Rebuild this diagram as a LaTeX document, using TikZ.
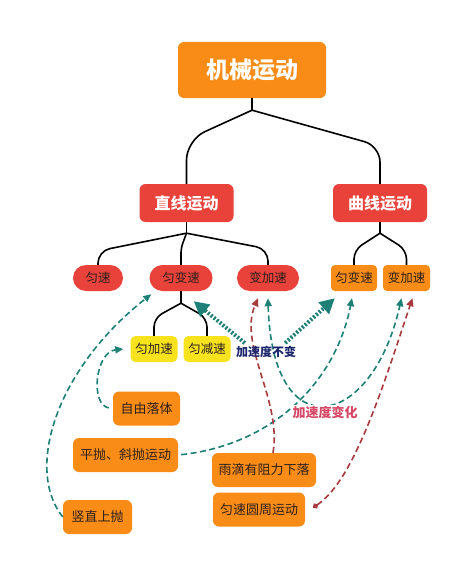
\documentclass[tikz,border=0pt]{standalone}
\usepackage{fontspec}
\setmainfont{Noto Sans CJK SC}
\usetikzlibrary{arrows.meta,calc}
\definecolor{orangeb}{RGB}{249,140,22}
\definecolor{rougeb}{RGB}{232,66,58}
\definecolor{jauneb}{RGB}{247,226,30}
\definecolor{sarcelle}{RGB}{28,128,118}
\definecolor{brique}{RGB}{168,58,62}
\definecolor{marine}{RGB}{28,38,110}
\definecolor{rose}{RGB}{214,72,102}
\definecolor{texte}{RGB}{45,32,30}

\begin{document}
\begin{tikzpicture}[x=1pt,y=-1pt,
    racine/.style={fill=orangeb,minimum width=148pt,minimum height=56pt,rounded corners=6pt,text=white,font=\bfseries\fontsize{23}{26}\selectfont},
    branche/.style={fill=rougeb,minimum width=94pt,minimum height=38pt,rounded corners=6pt,text=white,font=\bfseries\fontsize{16}{18}\selectfont},
    pilule/.style={fill=rougeb,minimum height=26pt,rounded corners=13pt,text=texte,font=\fontsize{12.5}{14}\selectfont},
    carre/.style={fill=orangeb,minimum height=26pt,rounded corners=4pt,text=texte,font=\fontsize{12.5}{14}\selectfont},
    cjaune/.style={fill=jauneb,minimum height=26pt,rounded corners=5pt,text=texte,font=\fontsize{12.5}{14}\selectfont},
    exemple/.style={fill=orangeb,minimum height=34pt,rounded corners=6pt,text=texte,font=\fontsize{13}{15}\selectfont},
    arbre/.style={draw=black,line width=1.6pt,rounded corners=12pt},
    fleche/.style={draw=sarcelle,line width=1.6pt,dash pattern=on 6pt off 3.5pt,-{Triangle[length=8pt,width=7pt]}},
    flechebr/.style={fleche,draw=brique},
    pointille/.style={draw=sarcelle,line width=4pt,dash pattern=on 2pt off 1.8pt,-{Triangle[length=15pt,width=15pt]}}]

\useasboundingbox (0,0) rectangle (475,578);
\fill[white] (0,0) rectangle (475,578);

% les boites
\node[racine] (jx) at (252,70) {机械运动};
\node[branche] (zx) at (186.5,203) {直线运动};
\node[branche] (qx) at (380,203) {曲线运动};

\node[pilule,minimum width=50pt] (ys) at (98,278) {匀速};
\node[pilule,minimum width=63pt] (ybs) at (181,278) {匀变速};
\node[pilule,minimum width=62pt] (bjs) at (268,278) {变加速};
\node[carre,minimum width=46pt] (qybs) at (354,278) {匀变速};
\node[carre,minimum width=47pt] (qbjs) at (406.5,278) {变加速};

\node[cjaune,minimum width=47pt] (yjs) at (154,349) {匀加速};
\node[cjaune,minimum width=47pt] (yjians) at (207,349) {匀减速};

\node[exemple,minimum width=67pt] (zylt) at (146.5,408.5) {自由落体};
\node[exemple,minimum width=105pt] (ppx) at (125.5,455) {平抛、斜抛运动};
\node[exemple,minimum width=69pt] (ssp) at (97.5,517) {竖直上抛};
\node[exemple,minimum width=104pt] (yd) at (264,470) {雨滴有阻力下落};
\node[exemple,minimum width=92pt] (ysyz) at (259,509.5) {匀速圆周运动};

% les liaisons de l'arbre
\draw[arbre] (jx.south) -- ++(0,12) coordinate (j1);
\draw[arbre,rounded corners=20pt] (j1) -- (zx.north |- 0,140) -- (zx.north);
\draw[arbre,rounded corners=16pt] (j1) -- (qx.north |- 0,146) -- (qx.north);

\draw[arbre] (zx.south) -- ++(0,11) coordinate (z1);
\draw[arbre] (z1) -- (ys.north |- 0,251) -- (ys.north);
\draw[arbre,rounded corners=5pt] (z1) -- (ybs.north |- 0,248) -- (ybs.north);
\draw[arbre] (z1) -- (bjs.north |- 0,249) -- (bjs.north);

\draw[arbre] (qx.south) -- ++(0,11) coordinate (q1);
\draw[arbre,rounded corners=9pt] (q1) -- (qybs.north |- 0,250) -- (qybs.north);
\draw[arbre,rounded corners=9pt] (q1) -- (qbjs.north |- 0,250) -- (qbjs.north);

\draw[arbre] (ybs.south) -- ++(0,12) coordinate (y1);
\draw[arbre,rounded corners=9pt] (y1) -- (yjs.north |- 0,318) -- (yjs.north);
\draw[arbre,rounded corners=9pt] (y1) -- (yjians.north |- 0,318) -- (yjians.north);

% les fleches en tirets
\draw[fleche] (ssp.west) .. controls (25,470) and (55,370) .. ($(ybs.south west)+(2,3)$);
\draw[fleche,shorten <=4pt] (zylt.west) .. controls (90,405) and (95,352) .. ($(yjs.west)+(-7,0)$);
\draw[fleche,shorten <=3pt] (ppx.east) .. controls (270,445) and (335,385) .. ($(qybs.south)+(-2,7)$);
\draw[flechebr] ($(yd.north)+(9,0)$) .. controls (282,400) and (238,345) .. ($(bjs.south)+(-10,7)$);
\draw[fleche,{Triangle[length=8pt,width=7pt]}-{Triangle[length=8pt,width=7pt]}] ($(bjs.south)+(0,7)$) .. controls (272,450) and (372,430) .. ($(qbjs.south)+(-5,7)$);
\draw[flechebr,{Circle[length=5.5pt]}-{Triangle[length=8pt,width=7pt]}] ($(ysyz.east)+(8,-2)$) .. controls (355,480) and (385,380) .. ($(qbjs.south)+(6,7)$);

% les etiquettes
\node[inner sep=0pt,text=marine,font=\bfseries\fontsize{12}{14}\selectfont] (jsbb) at (266,352) {加速度不变};
\node[inner sep=1pt,fill=white,text=rose,font=\bfseries\fontsize{13}{15}\selectfont] (jsbh) at (325,412) {加速度变化};

% les fleches en pointilles
\draw[pointille] ($(jsbb.north west)+(9,-3)$) -- ($(ybs.south east)+(-19,10)$);
\draw[pointille] ($(jsbb.north east)+(-11,-3)$) -- ($(qybs.south west)+(4,7)$);
\end{tikzpicture}
\end{document}
